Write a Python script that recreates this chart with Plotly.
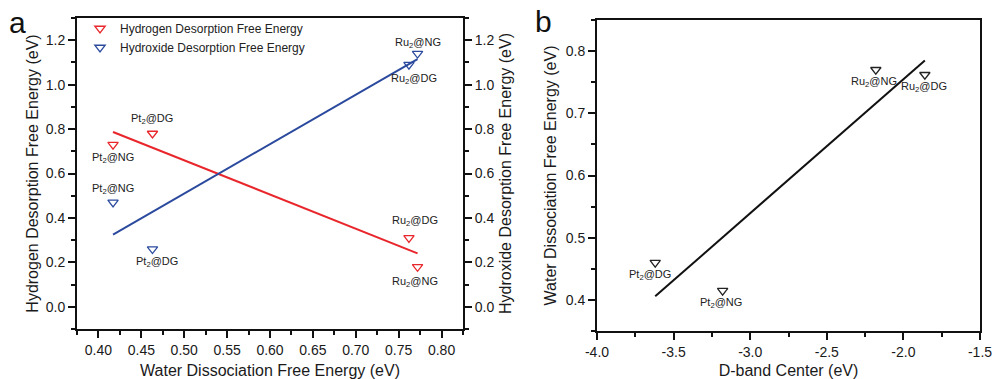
import numpy as np
import plotly.graph_objects as go

# ---- Panel a data ----
wd_free = [0.417, 0.463, 0.762, 0.772]          # water dissociation free energy (eV)
h_desorb = [0.73, 0.78, 0.31, 0.18]             # hydrogen desorption free energy (eV)
oh_desorb = [0.47, 0.26, 1.09, 1.14]            # hydroxide desorption free energy (eV)
a_names = ["Pt<sub>2</sub>@NG", "Pt<sub>2</sub>@DG", "Ru<sub>2</sub>@DG", "Ru<sub>2</sub>@NG"]

# ---- Panel b data ----
dband = [-3.62, -3.18, -2.18, -1.86]            # d-band centre (eV)
wd_b = [0.46, 0.415, 0.77, 0.762]               # water dissociation free energy (eV)
b_names = ["Pt<sub>2</sub>@DG", "Pt<sub>2</sub>@NG", "Ru<sub>2</sub>@NG", "Ru<sub>2</sub>@DG"]

# ---- Tick values / labels ----
a_xticks = [0.40, 0.45, 0.50, 0.55, 0.60, 0.65, 0.70, 0.75, 0.80]
a_yticks = [0.0, 0.2, 0.4, 0.6, 0.8, 1.0, 1.2]
b_xticks = [-4.0, -3.5, -3.0, -2.5, -2.0, -1.5]
b_yticks = [0.4, 0.5, 0.6, 0.7, 0.8]

RED = "#e8262b"
BLUE = "#2b4a9e"
INK = "#1a1a1a"
FONT = "Liberation Sans, Arial, sans-serif"


def linfit(x, y):
    k, b = np.polyfit(x, y, 1)
    xs = np.array([min(x), max(x)])
    return xs, k * xs + b


fig = go.Figure()

marker = dict(symbol="triangle-down-open", size=9, line=dict(width=1.3))

fig.add_trace(go.Scatter(x=wd_free, y=h_desorb, mode="markers", name="Hydrogen Desorption Free Energy",
                         marker=dict(marker, color=RED), xaxis="x", yaxis="y"))
fig.add_trace(go.Scatter(x=wd_free, y=oh_desorb, mode="markers", name="Hydroxide Desorption Free Energy",
                         marker=dict(marker, color=BLUE), xaxis="x", yaxis="y2"))
xs, ys = linfit(wd_free, h_desorb)
fig.add_trace(go.Scatter(x=xs, y=ys, mode="lines", line=dict(color=RED, width=2), showlegend=False,
                         xaxis="x", yaxis="y"))
xs, ys = linfit(wd_free, oh_desorb)
fig.add_trace(go.Scatter(x=xs, y=ys, mode="lines", line=dict(color=BLUE, width=2), showlegend=False,
                         xaxis="x", yaxis="y2"))

fig.add_trace(go.Scatter(x=dband, y=wd_b, mode="markers", showlegend=False,
                         marker=dict(marker, color="#222222"), xaxis="x3", yaxis="y3"))
xs, ys = linfit(dband, wd_b)
fig.add_trace(go.Scatter(x=xs, y=ys, mode="lines", line=dict(color="#111111", width=2), showlegend=False,
                         xaxis="x3", yaxis="y3"))

# point labels: (x, y, text, axis refs, x shift px, y shift px)
lab_font = dict(family=FONT, size=11, color="#222222")
labels = [
    (wd_free[0], h_desorb[0], a_names[0], "x", "y", 0, -13),
    (wd_free[1], h_desorb[1], a_names[1], "x", "y", 0, 15),
    (wd_free[2], h_desorb[2], a_names[2], "x", "y", 6, 17),
    (wd_free[3], h_desorb[3], a_names[3], "x", "y", -3, -15),
    (wd_free[0], oh_desorb[0], a_names[0], "x", "y2", 0, 13),
    (wd_free[1], oh_desorb[1], a_names[1], "x", "y2", 5, -13),
    (wd_free[2], oh_desorb[2], a_names[2], "x", "y2", 5, -14),
    (wd_free[3], oh_desorb[3], a_names[3], "x", "y2", 0, 11),
]
for i in range(4):
    labels.append((dband[i], wd_b[i], b_names[i], "x3", "y3", [-5, -2, -2, -1][i], -12))

annotations = []
for x, y, t, xr, yr, dx, dy in labels:
    annotations.append(dict(x=x, y=y, xref=xr, yref=yr, text=t, showarrow=False,
                            xshift=dx, yshift=dy, font=lab_font))
for txt, px, py in [("a", 17, 22), ("b", 543, 21)]:
    annotations.append(dict(x=px / 992, y=1 - py / 379, xref="paper", yref="paper", text=txt,
                            xanchor="center", yanchor="middle", showarrow=False,
                            font=dict(family=FONT, size=30, color="#111")))

tick_font = dict(family=FONT, size=14, color=INK)
title_font = dict(family=FONT, size=16, color=INK)
ax_common = dict(showline=True, linecolor="#111", linewidth=2, ticks="outside", ticklen=7,
                 tickwidth=1.5, tickcolor="#111", showgrid=False, zeroline=False, tickfont=tick_font,
                 automargin=False, tickmode="array", ticklabeloverflow="allow")


def minor(d):
    return dict(dtick=d, ticks="outside", ticklen=4, tickwidth=1.5, tickcolor="#111")


fig.update_layout(
    width=992, height=379, margin=dict(l=0, r=0, t=0, b=0),
    plot_bgcolor="white", paper_bgcolor="white",
    font=dict(family=FONT),
    annotations=annotations,
    showlegend=True,
    legend=dict(x=80 / 992, y=1 - 14 / 379, xanchor="left", yanchor="top", bgcolor="rgba(0,0,0,0)",
                font=dict(family=FONT, size=12, color="#222"), tracegroupgap=0, itemwidth=30),
    xaxis=dict(ax_common, domain=[77 / 992, 463 / 992], range=[0.375, 0.825],
               tickvals=a_xticks, ticktext=[f"{v:.2f}" for v in a_xticks], mirror=True, anchor="y",
               minor=minor(0.025),
               title=dict(text="Water Dissociation Free Energy (eV)", font=title_font, standoff=8)),
    yaxis=dict(ax_common, domain=[50 / 379, 361 / 379], range=[-0.1, 1.3],
               tickvals=a_yticks, ticktext=[f"{v:.1f}" for v in a_yticks], anchor="x",
               minor=minor(0.1),
               title=dict(text="Hydrogen Desorption Free Energy (eV)", font=title_font, standoff=3)),
    yaxis2=dict(ax_common, overlaying="y", side="right", anchor="x", range=[-0.1, 1.3],
                tickvals=a_yticks, ticktext=[f"{v:.1f}" for v in a_yticks],
                minor=minor(0.1),
                title=dict(text="Hydroxide Desorption Free Energy (eV)", font=title_font, standoff=6)),
    xaxis3=dict(ax_common, domain=[597 / 992, 980 / 992], range=[-4, -1.5],
                tickvals=b_xticks, ticktext=[f"{v:.1f}" for v in b_xticks],
                mirror=True, anchor="y3", minor=minor(0.25),
                title=dict(text="D-band Center (eV)", font=title_font, standoff=8)),
    yaxis3=dict(ax_common, domain=[48 / 379, 359 / 379], range=[0.35, 0.85],
                tickvals=b_yticks, ticktext=[f"{v:.1f}" for v in b_yticks],
                mirror=True, anchor="x3", minor=minor(0.05),
                title=dict(text="Water Dissociation Free Energy (eV)", font=title_font, standoff=5)),
)

fig.write_html("out.html")
